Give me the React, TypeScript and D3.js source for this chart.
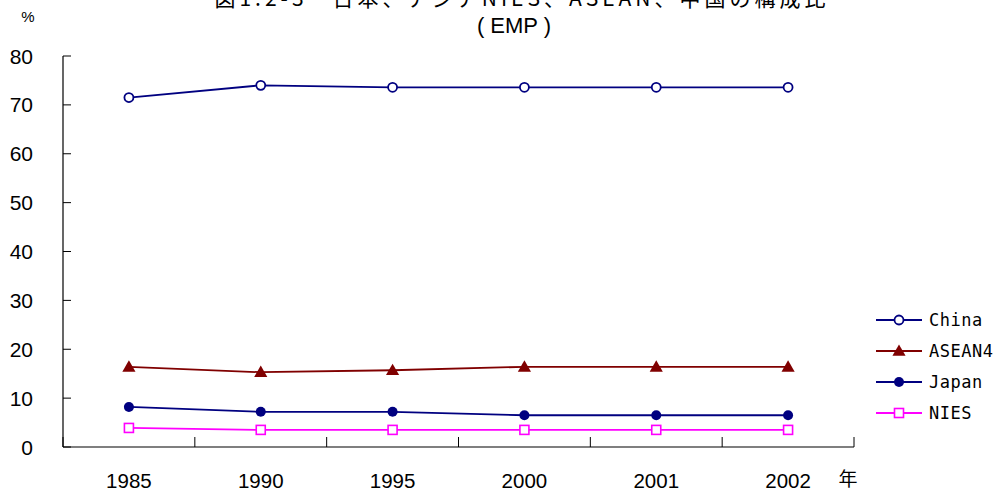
import React from 'react';
import * as d3 from 'd3';

const years = ['1985', '1990', '1995', '2000', '2001', '2002'];
const china = [71.5, 74.0, 73.6, 73.6, 73.6, 73.6];
const asean4 = [16.4, 15.3, 15.7, 16.4, 16.4, 16.4];
const japan = [8.2, 7.2, 7.2, 6.5, 6.5, 6.5];
const nies = [3.9, 3.5, 3.5, 3.5, 3.5, 3.5];
const yTicks = [0, 10, 20, 30, 40, 50, 60, 70, 80];

const seriesList = [
    { name: 'China', values: china, color: '#000080', marker: 'openCircle' },
    { name: 'ASEAN4', values: asean4, color: '#800000', marker: 'triangle' },
    { name: 'Japan', values: japan, color: '#000080', marker: 'circle' },
    { name: 'NIES', values: nies, color: '#FF00FF', marker: 'openSquare' },
];

const font = '"Liberation Sans", Arial, sans-serif';
const mono = '"DejaVu Sans Mono", "Liberation Mono", monospace';
const jp = '"Noto Sans CJK JP", sans-serif';

const Marker: React.FC<{ type: string; x: number; y: number; color: string }> = ({ type, x, y, color }) => {
    if (type === 'openCircle') {
        return <circle cx={x} cy={y} r={4.5} fill="#fff" stroke={color} strokeWidth={1.8} />;
    }
    if (type === 'circle') {
        return <circle cx={x} cy={y} r={5} fill={color} />;
    }
    if (type === 'triangle') {
        const tri = d3.symbol(d3.symbolTriangle, 75)();
        return <path d={tri || ''} transform={`translate(${x},${y + 1})`} fill={color} />;
    }
    return <rect x={x - 4.5} y={y - 4.5} width={9} height={9} fill="#fff" stroke={color} strokeWidth={1.6} />;
};

const App: React.FC = () => {
    const width = 1003;
    const height = 493;
    const left = 63;
    const right = 854;
    const top = 56;
    const bottom = 447;

    const x = d3.scaleBand<string>().domain(years).range([left, right]);
    const y = d3.scaleLinear().domain([0, 80]).range([bottom, top]);
    const cx = (i: number) => (x(years[i]) as number) + x.bandwidth() / 2;
    const line = d3
        .line<number>()
        .x((_, i) => cx(i))
        .y((d) => y(d));

    const bounds = [left, ...years.map((yr) => (x(yr) as number) + x.bandwidth())];

    return (
        <svg width={width} height={height} style={{ position: 'absolute', left: 0, top: 0, background: '#fff' }}>
            {/* title, cut at the top edge as in the original */}
            <text x={522} y={6} textAnchor="middle" fontFamily={jp} fontSize={21} letterSpacing={4} fill="#000">
                図1.2-3　日本、アジアNIES、ASEAN、中国の構成比
            </text>
            <text x={514} y={33} textAnchor="middle" fontFamily={font} fontSize={22} fill="#000">
                ( EMP )
            </text>
            <text x={28} y={22} textAnchor="middle" fontFamily={font} fontSize={15} fill="#000">%</text>

            {/* y axis */}
            <line x1={left} x2={left} y1={top} y2={bottom} stroke="#000" strokeWidth={1.2} />
            {yTicks.map((t) => (
                <g key={t}>
                    <line x1={left} x2={left + 8} y1={y(t)} y2={y(t)} stroke="#000" strokeWidth={1} />
                    <text x={33} y={y(t)} dy="0.36em" textAnchor="end" fontFamily={font} fontSize={21} fill="#000">
                        {t}
                    </text>
                </g>
            ))}

            {/* x axis */}
            <line x1={left} x2={right} y1={bottom} y2={bottom} stroke="#000" strokeWidth={1.2} />
            {bounds.map((b, i) => (
                <line key={i} x1={b} x2={b} y1={bottom} y2={bottom - 10} stroke="#000" strokeWidth={1} />
            ))}
            {years.map((yr, i) => (
                <text key={yr} x={cx(i)} y={488} textAnchor="middle" fontFamily={font} fontSize={20.5} fill="#000">
                    {yr}
                </text>
            ))}
            <text x={848} y={479} dy="0.35em" textAnchor="middle" fontFamily={jp} fontSize={19} fill="#000">
                年
            </text>

            {/* series */}
            {seriesList.map((s) => (
                <g key={s.name}>
                    <path d={line(s.values) || ''} fill="none" stroke={s.color} strokeWidth={1.8} />
                    {s.values.map((v, i) => (
                        <Marker key={i} type={s.marker} x={cx(i)} y={y(v)} color={s.color} />
                    ))}
                </g>
            ))}

            {/* legend */}
            {seriesList.map((s, i) => {
                const ly = 320 + i * 31;
                return (
                    <g key={s.name}>
                        <line x1={876} x2={922} y1={ly} y2={ly} stroke={s.color} strokeWidth={1.8} />
                        <Marker type={s.marker} x={899} y={ly} color={s.color} />
                        <text x={929} y={ly} dy="0.36em" fontFamily={mono} fontSize={17} letterSpacing={0.5} fill="#000">
                            {s.name}
                        </text>
                    </g>
                );
            })}
        </svg>
    );
};

export default App;
